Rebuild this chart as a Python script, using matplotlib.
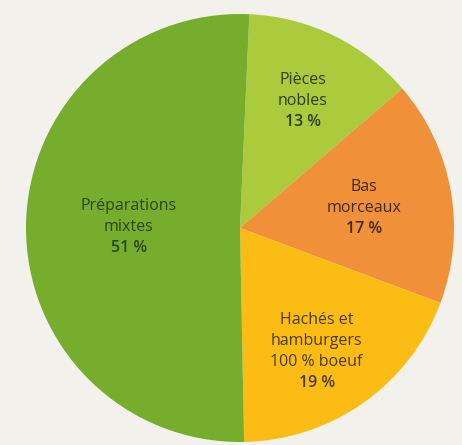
import numpy as np
import matplotlib.pyplot as plt

plt.rcParams['font.family'] = ['Open Sans', 'DejaVu Sans']

# parts of the beef sold, clockwise from the top
categories = ["Pièces\nnobles", "Bas\nmorceaux", "Hachés et\nhamburgers\n100 % boeuf", "Préparations\nmixtes"]
shares = [13, 17, 19, 51]
colors = ["#abcb3c", "#f0913a", "#fbbd14", "#77ad2d"]
text_colors = ["#2f3d14", "#3d2a12", "#4a3a10", "#2c4412"]
# label placement: fraction of radius, angular nudge in degrees
label_r = [0.66, 0.587, 0.68, 0.52]
label_turn = [-0.5, -1.0, -3.5, 0.0]

W, H = 462, 445
fig = plt.figure(figsize=(W / 100, H / 100), dpi=100)
fig.patch.set_facecolor("#f2f1ec")
ax = fig.add_axes([0, 0, 1, 1])

cx, cy, R = 240, H - 228, 214
wedges, _ = ax.pie(shares, colors=colors, startangle=87.5, counterclock=False,
                   center=(cx, cy), radius=R, frame=True,
                   wedgeprops=dict(linewidth=0))
ax.set_xlim(0, W)
ax.set_ylim(0, H)
ax.set_aspect("equal")
ax.axis("off")

line_h = 21
for w, name, val, tc, rf, dt in zip(wedges, categories, shares, text_colors, label_r, label_turn):
    mid = np.deg2rad((w.theta1 + w.theta2) / 2 + dt)
    x = cx + R * rf * np.cos(mid)
    y = cy + R * rf * np.sin(mid)
    lines = name.split("\n") + [f"{val} %"]
    top = y + line_h * (len(lines) - 1) / 2
    for i, s in enumerate(lines):
        last = i == len(lines) - 1
        ax.text(x, top - i * line_h, s, ha="center", va="center", fontsize=11.5,
                color=tc, fontweight="semibold" if last else "normal")

fig.savefig("out.png", dpi=100, facecolor=fig.get_facecolor())
